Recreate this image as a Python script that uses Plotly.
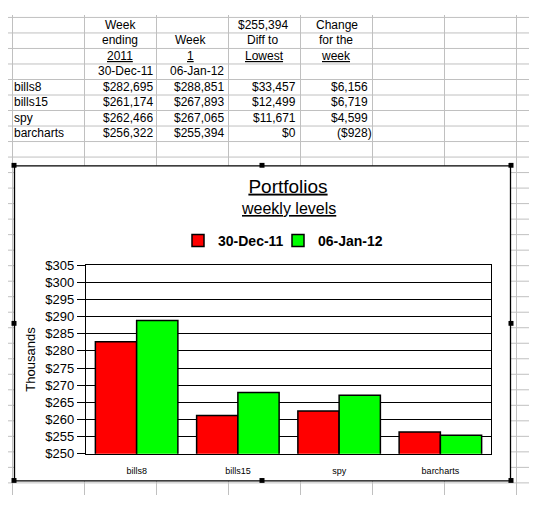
import plotly.graph_objects as go

# the page puts the plot 8px in from the top-left (body margin), so draw in a
# smaller figure that fits the window and shift the sheet coordinates
PAGE_W, PAGE_H = 537, 511
OFF = 8
W, H = PAGE_W - OFF, PAGE_H - 2 * OFF
FONT = "Arial, Liberation Sans, sans-serif"

# values (dollars)
portfolios = ["bills8", "bills15", "spy", "barcharts"]
dec30 = [282695, 261174, 262466, 256322]
jan06 = [288851, 267893, 267065, 255394]
week_labels = ["30-Dec-11", "06-Jan-12"]
bar_colors = ["#ff0000", "#00ff00"]

# sheet grid (page pixels)
col_edges = [12, 84, 156, 228, 300, 372, 444, 516]
row_edges = [10 + 16 * k for k in range(31)]


def px(x):
    return (x - OFF) / W


def py(y):
    return 1 - (y - OFF) / H


def money(v):
    if v < 0:
        return "(${:,})".format(-v)
    return "${:,}".format(v)


def cell(text, x, y, anchor="center", **kw):
    # small helper for spreadsheet text
    return dict(text=text, x=px(x), y=py(y), xref="paper", yref="paper",
                xanchor=anchor, yanchor="middle", showarrow=False,
                font=dict(family=FONT, size=12, color="black"), **kw)


lowest = min(jan06)
diff = [v - lowest for v in jan06]
change = [b - a for a, b in zip(dec30, jan06)]

fig = go.Figure()
for i, (name, vals, color) in enumerate(zip(week_labels, [dec30, jan06], bar_colors)):
    fig.add_trace(go.Bar(
        x=portfolios,
        y=[v / 1000 for v in vals],
        name=name,
        legend="legend" if i == 0 else "legend2",
        marker=dict(color=color, line=dict(color="black", width=1.5)),
    ))

# spreadsheet text
ann = []
ann += [cell("Week", 120, 18), cell("ending", 120, 34), cell("<u>2011</u>", 120, 50)]
ann += [cell("Week", 191, 34), cell("<u>1</u>", 190, 50)]
ann += [cell(money(lowest), 263, 18), cell("Diff to", 262, 34), cell("<u>Lowest</u>", 264, 50)]
ann += [cell("Change", 337, 18), cell("for the", 336, 34), cell("<u>week</u>", 336, 50)]
ann += [cell(week_labels[0], 155, 66, "right"), cell(week_labels[1], 226, 66, "right")]
for i, name in enumerate(portfolios):
    y = 82 + 16 * i
    ann.append(cell(name, 12, y, "left"))
    ann.append(cell(money(dec30[i]), 155, y, "right"))
    ann.append(cell(money(jan06[i]), 226, y, "right"))
    ann.append(cell(money(diff[i]), 298, y, "right"))
    ann.append(cell(money(change[i]), 370 if change[i] >= 0 else 374, y, "right"))

# chart subtitle
ann.append(dict(text="<u>weekly levels</u>", x=px(288), y=py(208), xref="paper", yref="paper",
                xanchor="center", yanchor="middle", showarrow=False,
                font=dict(family=FONT, size=16, color="black")))

shapes = []
for x in col_edges:
    shapes.append(dict(type="line", xref="paper", yref="paper", layer="below",
                       x0=px(x + 0.5), x1=px(x + 0.5), y0=0, y1=1,
                       line=dict(color="#c0c0c0", width=1)))
for y in row_edges:
    shapes.append(dict(type="line", xref="paper", yref="paper", layer="below",
                       x0=0, x1=1, y0=py(y + 0.5), y1=py(y + 0.5),
                       line=dict(color="#c0c0c0", width=1)))
# chart object box
shapes.append(dict(type="rect", xref="paper", yref="paper", layer="below",
                   x0=px(14.5), x1=px(510.5), y0=py(488.5), y1=py(163.5),
                   fillcolor="white", line=dict(color="black", width=1.3)))
# selection handles
for hx, hy in [(14, 163), (262, 163), (511, 163), (14, 326), (511, 326),
               (14, 488), (262, 488), (511, 488)]:
    shapes.append(dict(type="rect", xref="paper", yref="paper", layer="above",
                       x0=px(hx - 2.5), x1=px(hx + 2.5), y0=py(hy + 2.5), y1=py(hy - 2.5),
                       fillcolor="black", line=dict(width=0)))

legend_style = dict(orientation="h", y=py(241), xanchor="left", yanchor="middle",
                    font=dict(size=14, weight="bold", color="black"), bgcolor="rgba(0,0,0,0)")

fig.update_layout(
    width=W, height=H, autosize=False,
    margin=dict(l=0, r=0, t=0, b=0),
    paper_bgcolor="white", plot_bgcolor="white",
    font=dict(family=FONT, color="black"),
    title=dict(text="<u>Portfolios</u>", x=px(288), y=py(186), xanchor="center", yanchor="middle",
               xref="paper", yref="container", font=dict(size=19, color="black")),
    barmode="group", bargap=0.185, bargroupgap=0,
    showlegend=True,
    legend=dict(x=px(178), **legend_style),
    legend2=dict(x=px(278), **legend_style),
    xaxis=dict(domain=[px(86), px(491)], showline=True, linecolor="black", linewidth=1.3, mirror=True,
               ticks="", tickfont=dict(size=9, color="black"), ticklabelstandoff=8, fixedrange=True),
    yaxis=dict(domain=[py(460.5), py(266)], range=[250, 305], dtick=5, tickprefix="$",
               showgrid=True, gridcolor="black", gridwidth=1.3,
               showline=True, linecolor="black", linewidth=1.3, mirror=True,
               ticks="outside", ticklen=8, tickcolor="black", tickwidth=1.3,
               tickfont=dict(size=13, color="black"), zeroline=False,
               title=dict(text="Thousands", font=dict(size=13, color="black"), standoff=6)),
    annotations=ann,
    shapes=shapes,
)

fig.write_html("out.html")
